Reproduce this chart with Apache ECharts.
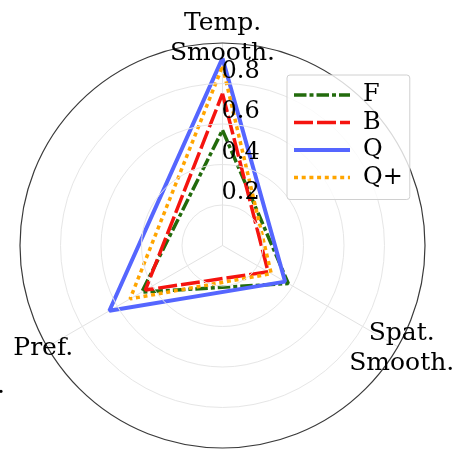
<!DOCTYPE html>
<html>
<head>
<meta charset="utf-8">
<script src="https://cdn.jsdelivr.net/npm/echarts@6/dist/echarts.min.js"></script>
<style>
  html, body { margin: 0; padding: 0; background: #fff; }
  #chart { width: 455px; height: 453px; }
</style>
</head>
<body>
<div id="chart"></div>
<script>
// Radar axes (clockwise from the top) and their angles in degrees
const categories = ['Temp.\nSmooth.', 'Spat.\nSmooth.', 'Pref.'];
const axisAngles = [0, 120, 240];

// Scores per method, in the order of the categories
const seriesNames = ['F', 'B', 'Q', 'Q+'];
const valuesF = [0.57, 0.375, 0.46];
const valuesB = [0.75, 0.26, 0.44];
const valuesQ = [0.925, 0.357, 0.645];
const valuesQplus = [0.885, 0.278, 0.527];

// Radial tick labels
const radiusTicks = [0.2, 0.4, 0.6, 0.8];

const FONT = '"DejaVu Serif", "Liberation Serif", serif';
const CENTER = [222.5, 245.5];
const RADIUS = 202.5;

const styles = {
  'F':  { color: '#226b0c', width: 3.5, type: [12.5, 3, 4, 3] },
  'B':  { color: '#f5140f', width: 3.5, type: [19, 4] },
  'Q':  { color: '#5566ff', width: 4,   type: 'solid' },
  'Q+': { color: '#ffa500', width: 3.5, type: [4, 3.7] }
};

function closedRing(values) {
  const pts = values.map((v, i) => [v, axisAngles[i]]);
  pts.push([values[0], 360]);
  return pts;
}

const allValues = [valuesF, valuesB, valuesQ, valuesQplus];

const series = seriesNames.map((name, i) => ({
  name: name,
  type: 'line',
  coordinateSystem: 'polar',
  symbol: 'none',
  silent: true,
  animation: false,
  clip: false,
  data: closedRing(allValues[i]),
  lineStyle: {
    color: styles[name].color,
    width: styles[name].width,
    type: styles[name].type,
    cap: 'butt'
  },
  itemStyle: { color: styles[name].color },
  z: 3 + i
}));

// Axis names sit just outside the outer circle along each spoke
const nameRadius = RADIUS * 1.022;
const nameGraphics = categories.map((label, i) => {
  const a = axisAngles[i] * Math.PI / 180;
  return {
    type: 'text',
    silent: true,
    style: {
      text: label,
      x: CENTER[0] + nameRadius * Math.sin(a),
      y: CENTER[1] - nameRadius * Math.cos(a),
      align: 'center',
      verticalAlign: 'middle',
      fontSize: 25,
      fontFamily: FONT,
      lineHeight: 30,
      fill: '#000'
    },
    z: 10
  };
});
nameGraphics.push({
  type: 'text',
  silent: true,
  style: { text: '.', x: 5, y: 374, align: 'right', verticalAlign: 'alphabetic', fontSize: 25, fontFamily: FONT, fill: '#000' },
  z: 10
});

const chart = echarts.init(document.getElementById('chart'), null, { renderer: 'canvas' });
chart.setOption({
  animation: false,
  backgroundColor: '#fff',
  polar: { center: CENTER, radius: RADIUS },
  angleAxis: {
    type: 'value',
    min: 0,
    max: 360,
    interval: 120,
    startAngle: 90,
    clockwise: true,
    axisLine: { show: true, lineStyle: { color: '#3a3a3a', width: 1.2 } },
    axisTick: { show: false },
    axisLabel: { show: false },
    splitLine: { show: true, lineStyle: { color: '#e2e2e2', width: 1 } },
    z: 2
  },
  radiusAxis: {
    type: 'value',
    min: 0,
    max: 1,
    interval: 0.2,
    axisLine: { show: false },
    axisTick: { show: false },
    splitLine: {
      show: true,
      lineStyle: { color: ['#e6e6e6', '#e6e6e6', '#e6e6e6', '#e6e6e6', '#e6e6e6', 'rgba(0,0,0,0)'], width: 1 }
    },
    axisLabel: {
      show: true,
      inside: true,
      margin: 1,
      align: 'left',
      verticalAlign: 'bottom',
      fontSize: 24,
      fontFamily: FONT,
      color: '#000',
      formatter: function (v) {
        const hit = radiusTicks.find(t => Math.abs(t - v) < 1e-6);
        return hit !== undefined ? hit.toFixed(1) : '';
      }
    },
    z: 20
  },
  legend: {
    data: seriesNames.map(name => ({
      name: name,
      itemStyle: { opacity: 0 },
      lineStyle: { width: styles[name].width, type: styles[name].type, color: styles[name].color, cap: 'butt' }
    })),
    orient: 'vertical',
    left: 287,
    top: 75,
    padding: [8, 7, 10, 5],
    itemWidth: 56,
    itemHeight: 20,
    itemGap: 3.5,
    borderColor: '#d0d0d0',
    borderWidth: 1,
    borderRadius: 3,
    backgroundColor: 'rgba(255,255,255,0.8)',
    textStyle: { fontSize: 24, fontFamily: FONT, color: '#000', lineHeight: 20, padding: [0, 0, 0, 8] },
    z: 30
  },
  graphic: nameGraphics,
  series: series
});
</script>
</body>
</html>
